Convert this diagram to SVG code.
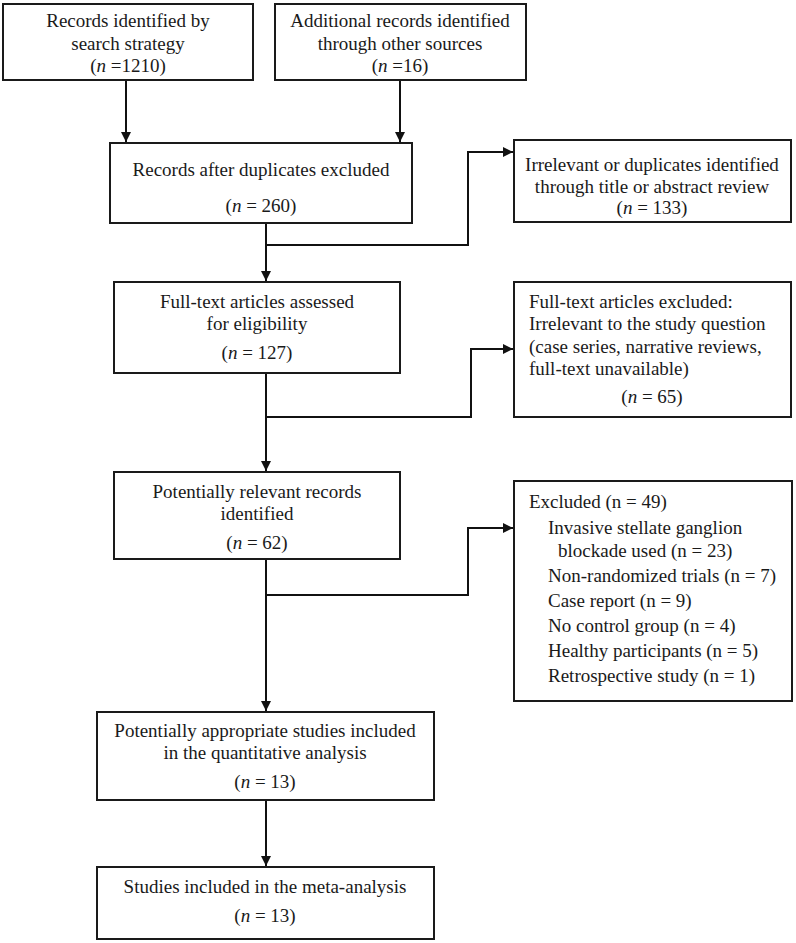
<svg xmlns="http://www.w3.org/2000/svg" width="796" height="943" viewBox="0 0 796 943">
<defs>
<marker id="ah" viewBox="0 0 10 10" refX="10" refY="5" markerWidth="10" markerHeight="10" markerUnits="userSpaceOnUse" orient="auto">
<path d="M0,0 L10,5 L0,10 Z" fill="#111"/>
</marker>
<style>
.box{fill:#fff;stroke:#1a1a1a;stroke-width:2}
text{font-family:"Liberation Serif","Times New Roman",serif;font-size:19px;fill:#1a1a1a}
.c{text-anchor:middle}
.i{font-style:italic}
.ln{fill:none;stroke:#111;stroke-width:2}
</style>
</defs>
<rect width="796" height="943" fill="#fff"/>
<g id="connectors">
<path class="ln" d="M126,81 V142" marker-end="url(#ah)"/>
<path class="ln" d="M400,81 V142" marker-end="url(#ah)"/>
<path class="ln" d="M266,224 V281" marker-end="url(#ah)"/>
<path class="ln" d="M266,245 H468 V152 H513" marker-end="url(#ah)"/>
<path class="ln" d="M266,374 V471" marker-end="url(#ah)"/>
<path class="ln" d="M266,417 H471 V349 H513" marker-end="url(#ah)"/>
<path class="ln" d="M266,560 V711" marker-end="url(#ah)"/>
<path class="ln" d="M266,595 H468 V528 H513" marker-end="url(#ah)"/>
<path class="ln" d="M266,801 V866" marker-end="url(#ah)"/>
</g>
<g id="n1">
<rect class="box" x="3" y="4" width="250" height="76"/>
<text class="c" x="128" y="27">Records identified by</text>
<text class="c" x="128" y="50">search strategy</text>
<text class="c" x="128" y="72">(<tspan class="i">n</tspan> =1210)</text>
</g>
<g id="n2">
<rect class="box" x="275" y="4" width="251" height="76"/>
<text class="c" x="400" y="27">Additional records identified</text>
<text class="c" x="400" y="50">through other sources</text>
<text class="c" x="400" y="72">(<tspan class="i">n</tspan> =16)</text>
</g>
<g id="n3">
<rect class="box" x="110" y="143" width="302" height="80"/>
<text class="c" x="261" y="176">Records after duplicates excluded</text>
<text class="c" x="261" y="212">(<tspan class="i">n</tspan> = 260)</text>
</g>
<g id="n4">
<rect class="box" x="514" y="140" width="277" height="82"/>
<text class="c" x="652" y="171">Irrelevant or duplicates identified</text>
<text class="c" x="652" y="193">through title or abstract review</text>
<text class="c" x="652" y="214">(<tspan class="i">n</tspan> = 133)</text>
</g>
<g id="n5">
<rect class="box" x="114" y="282" width="286" height="91"/>
<text class="c" x="257" y="308">Full-text articles assessed</text>
<text class="c" x="257" y="330">for eligibility</text>
<text class="c" x="257" y="359">(<tspan class="i">n</tspan> = 127)</text>
</g>
<g id="n6">
<rect class="box" x="514" y="282" width="277" height="135"/>
<text x="529" y="308">Full-text articles excluded:</text>
<text x="529" y="330">Irrelevant to the study question</text>
<text x="529" y="353">(case series, narrative reviews,</text>
<text x="529" y="375">full-text unavailable)</text>
<text class="c" x="652" y="403">(<tspan class="i">n</tspan> = 65)</text>
</g>
<g id="n7">
<rect class="box" x="114" y="472" width="286" height="87"/>
<text class="c" x="257" y="498">Potentially relevant records</text>
<text class="c" x="257" y="520">identified</text>
<text class="c" x="257" y="549">(<tspan class="i">n</tspan> = 62)</text>
</g>
<g id="n8">
<rect class="box" x="514" y="481" width="278" height="220"/>
<text x="529" y="508">Excluded (n = 49)</text>
<text x="548" y="534">Invasive stellate ganglion</text>
<text x="558" y="557">blockade used (n = 23)</text>
<text x="548" y="582">Non-randomized trials (n = 7)</text>
<text x="548" y="607">Case report (n = 9)</text>
<text x="548" y="632">No control group (n = 4)</text>
<text x="548" y="657">Healthy participants (n = 5)</text>
<text x="548" y="682">Retrospective study (n = 1)</text>
</g>
<g id="n9">
<rect class="box" x="97" y="712" width="337" height="88"/>
<text class="c" x="265" y="737">Potentially appropriate studies included</text>
<text class="c" x="265" y="759">in the quantitative analysis</text>
<text class="c" x="265" y="788">(<tspan class="i">n</tspan> = 13)</text>
</g>
<g id="n10">
<rect class="box" x="97" y="867" width="337" height="72"/>
<text class="c" x="265" y="893">Studies included in the meta-analysis</text>
<text class="c" x="265" y="922">(<tspan class="i">n</tspan> = 13)</text>
</g>
</svg>
